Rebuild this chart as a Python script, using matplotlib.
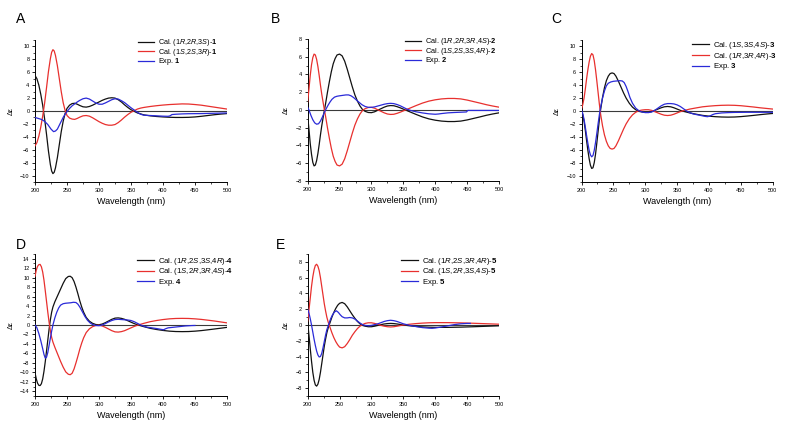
import matplotlib
matplotlib.use('Agg')
import matplotlib.pyplot as plt
from matplotlib.ticker import MultipleLocator

plt.rcParams['font.family'] = ['Liberation Sans', 'DejaVu Sans']
plt.rcParams['mathtext.fontset'] = 'custom'
plt.rcParams['mathtext.rm'] = 'Liberation Sans'
plt.rcParams['mathtext.it'] = 'Liberation Sans:italic'
plt.rcParams['mathtext.bf'] = 'Liberation Sans:bold'

# ---- panel A ----
a_wl_cal = [200, 203, 206, 209, 212, 215, 218, 221, 224, 226, 228, 230, 232, 235, 238, 241, 244, 247, 250,
            254, 258, 262, 266, 270, 275, 280, 285, 290, 295, 300, 305, 310, 315, 320, 325, 330, 335, 340,
            345, 350, 355, 360, 365, 370, 380, 390, 400, 410, 420, 430, 440, 450, 460, 470, 480, 490, 500]
a_black = [5.5, 5.0, 4.0, 2.6, 0.9, -1.2, -3.6, -6.2, -8.3, -9.3, -9.7, -9.5, -8.8, -7.2, -5.2, -3.2, -1.6,
           -0.4, 0.4, 0.9, 1.15, 1.2, 1.05, 0.85, 0.65, 0.6, 0.7, 0.9, 1.15, 1.4, 1.65, 1.85, 2.0, 2.05, 2.0,
           1.75, 1.4, 0.95, 0.55, 0.2, -0.05, -0.3, -0.45, -0.6, -0.75, -0.85, -0.92, -0.97, -1.0, -1.0,
           -0.98, -0.92, -0.82, -0.7, -0.58, -0.48, -0.4]
a_red = [-5.4, -4.9, -3.9, -2.5, -0.8, 1.2, 3.6, 6.1, 8.1, 9.1, 9.5, 9.3, 8.6, 7.0, 5.0, 3.0, 1.3, 0.1,
         -0.7, -1.1, -1.25, -1.3, -1.15, -0.95, -0.75, -0.7, -0.8, -1.05, -1.35, -1.65, -1.9, -2.1, -2.2,
         -2.2, -2.1, -1.8, -1.4, -0.95, -0.55, -0.2, 0.05, 0.3, 0.45, 0.55, 0.7, 0.82, 0.92, 1.0, 1.05,
         1.1, 1.08, 1.0, 0.9, 0.75, 0.6, 0.45, 0.3]
a_wl_exp = [200, 205, 210, 215, 220, 225, 229, 232, 235, 238, 241, 244, 247, 250, 254, 258, 262, 266, 270,
            275, 280, 285, 290, 295, 300, 305, 310, 315, 320, 325, 330, 335, 340, 345, 350, 355, 360, 365,
            370, 380, 390, 400, 408, 411, 414, 420, 430, 440, 460, 480, 500]
a_blue = [-1.0, -1.15, -1.3, -1.6, -2.1, -2.8, -3.2, -3.1, -2.8, -2.2, -1.6, -1.0, -0.5, -0.1, 0.4, 0.8, 1.1,
          1.4, 1.65, 1.9, 2.0, 1.85, 1.55, 1.25, 1.05, 1.05, 1.25, 1.5, 1.75, 1.9, 1.85, 1.6, 1.3, 0.9, 0.5,
          0.15, -0.2, -0.5, -0.65, -0.7, -0.75, -0.8, -0.82, -0.75, -0.55, -0.5, -0.45, -0.42, -0.4, -0.35,
          -0.3]

# ---- panel B ----
b_wl_cal = [200, 202, 204, 206, 208, 210, 212, 214, 216, 218, 220, 222, 225, 228, 231, 234, 237, 240, 243,
            246, 250, 254, 258, 262, 266, 270, 274, 278, 282, 286, 290, 295, 300, 305, 310, 315, 320, 325,
            330, 335, 340, 345, 350, 355, 360, 370, 380, 390, 400, 410, 420, 430, 440, 450, 460, 470, 480,
            490, 500]
b_black = [-0.7, -2.2, -3.8, -5.0, -5.9, -6.3, -6.2, -5.7, -4.9, -3.9, -2.8, -1.8, -0.5, 0.7, 2.0, 3.2, 4.3,
           5.2, 5.8, 6.2, 6.3, 6.1, 5.5, 4.6, 3.6, 2.6, 1.7, 1.0, 0.45, 0.05, -0.15, -0.28, -0.3, -0.2,
           -0.02, 0.15, 0.32, 0.45, 0.5, 0.48, 0.38, 0.25, 0.1, -0.05, -0.2, -0.5, -0.78, -1.0, -1.15,
           -1.25, -1.3, -1.3, -1.25, -1.12, -0.95, -0.78, -0.6, -0.45, -0.32]
b_red = [0.9, 2.4, 3.9, 5.1, 5.9, 6.3, 6.2, 5.7, 4.9, 3.9, 2.8, 1.8, 0.5, -0.7, -2.0, -3.2, -4.3, -5.2,
         -5.8, -6.2, -6.3, -6.1, -5.5, -4.6, -3.6, -2.6, -1.7, -1.0, -0.45, -0.05, 0.15, 0.28, 0.3, 0.2,
         0.02, -0.15, -0.32, -0.45, -0.5, -0.48, -0.38, -0.25, -0.1, 0.05, 0.2, 0.5, 0.78, 1.0, 1.15, 1.25,
         1.3, 1.3, 1.25, 1.12, 0.95, 0.78, 0.6, 0.45, 0.32]
b_wl_exp = [200, 202, 205, 208, 211, 214, 217, 220, 223, 226, 229, 232, 235, 238, 242, 246, 250, 255, 260,
            264, 268, 272, 276, 280, 285, 290, 295, 300, 305, 310, 315, 320, 325, 330, 335, 340, 345, 350,
            355, 360, 365, 370, 380, 390, 400, 405, 410, 420, 430, 440, 449, 451, 470, 500]
b_blue = [0.3, 0.0, -0.6, -1.1, -1.45, -1.6, -1.55, -1.25, -0.8, -0.3, 0.15, 0.55, 0.9, 1.2, 1.45, 1.55, 1.6,
          1.65, 1.7, 1.7, 1.6, 1.4, 1.15, 0.9, 0.6, 0.4, 0.3, 0.3, 0.35, 0.45, 0.55, 0.65, 0.72, 0.75, 0.72,
          0.62, 0.48, 0.3, 0.12, -0.02, -0.12, -0.2, -0.33, -0.43, -0.48, -0.45, -0.4, -0.32, -0.28, -0.25,
          -0.22, -0.05, -0.05, -0.05]

# ---- panel C ----
c_wl_cal = [200, 202, 204, 206, 208, 210, 212, 214, 216, 218, 220, 222, 224, 226, 228, 230, 233, 236, 239,
            242, 245, 248, 251, 254, 258, 262, 266, 270, 275, 280, 285, 290, 295, 300, 305, 310, 315, 320,
            325, 330, 335, 340, 345, 350, 355, 360, 370, 380, 390, 400, 410, 420, 430, 440, 450, 460, 470,
            480, 490, 500]
c_black = [0.0, -0.6, -1.6, -3.0, -4.6, -6.1, -7.4, -8.4, -8.9, -8.8, -8.0, -6.7, -5.0, -3.2, -1.4, 0.2, 2.1,
           3.6, 4.7, 5.4, 5.8, 5.9, 5.8, 5.4, 4.6, 3.7, 2.8, 2.0, 1.2, 0.6, 0.2, -0.05, -0.15, -0.2, -0.2,
           -0.1, 0.1, 0.3, 0.5, 0.65, 0.7, 0.65, 0.5, 0.3, 0.1, -0.05, -0.3, -0.5, -0.68, -0.8, -0.88, -0.93,
           -0.95, -0.93, -0.87, -0.78, -0.68, -0.57, -0.47, -0.38]
c_red = [0.3, 1.0, 2.0, 3.4, 5.0, 6.4, 7.6, 8.5, 8.9, 8.7, 7.8, 6.4, 4.7, 2.9, 1.1, -0.5, -2.3, -3.7, -4.7,
         -5.4, -5.8, -5.9, -5.8, -5.4, -4.6, -3.7, -2.8, -2.0, -1.2, -0.6, -0.2, 0.05, 0.15, 0.2, 0.2, 0.1,
         -0.1, -0.3, -0.5, -0.65, -0.7, -0.65, -0.5, -0.3, -0.1, 0.05, 0.3, 0.48, 0.65, 0.75, 0.83, 0.88,
         0.9, 0.88, 0.82, 0.72, 0.62, 0.5, 0.4, 0.3]
c_wl_exp = [200, 202, 204, 206, 208, 210, 212, 214, 216, 218, 220, 222, 224, 226, 228, 230, 233, 236, 239,
            242, 246, 250, 255, 260, 264, 267, 270, 273, 276, 280, 285, 290, 295, 300, 305, 310, 315, 320,
            325, 330, 335, 340, 345, 350, 355, 360, 365, 370, 375, 380, 385, 390, 395, 398, 402, 406, 410,
            420, 430, 440, 460, 480, 500]
c_blue = [0.2, -0.4, -1.3, -2.5, -3.8, -5.0, -6.1, -6.8, -7.1, -6.9, -6.1, -4.9, -3.5, -2.0, -0.6, 0.6, 2.0,
          3.1, 3.9, 4.3, 4.5, 4.6, 4.65, 4.7, 4.65, 4.4, 3.8, 3.0, 2.1, 1.2, 0.45, 0.05, -0.15, -0.25, -0.25,
          -0.15, 0.1, 0.45, 0.8, 1.05, 1.15, 1.15, 1.1, 0.95, 0.7, 0.35, 0.0, -0.25, -0.45, -0.55, -0.65,
          -0.75, -0.85, -0.88, -0.75, -0.55, -0.42, -0.3, -0.25, -0.22, -0.2, -0.2, -0.2]

# ---- panel D ----
d_wl_cal = [200, 202, 204, 206, 208, 210, 212, 214, 216, 218, 220, 222, 224, 226, 228, 231, 234, 237, 240,
            244, 248, 252, 255, 258, 261, 264, 267, 270, 273, 276, 280, 285, 290, 295, 300, 305, 310, 315,
            320, 325, 330, 335, 340, 345, 350, 355, 360, 365, 370, 380, 390, 400, 410, 420, 430, 440, 450,
            460, 470, 480, 490, 500]
d_black = [-10.1, -11.4, -12.3, -12.75, -12.8, -12.4, -11.4, -9.8, -7.8, -5.5, -3.2, -0.9, 1.1, 2.7, 3.8,
           4.9, 5.8, 6.7, 7.6, 8.8, 9.8, 10.25, 10.3, 10.0, 9.2, 8.0, 6.6, 5.1, 3.8, 2.7, 1.6, 0.8, 0.35,
           0.1, 0.05, 0.2, 0.5, 0.85, 1.2, 1.45, 1.5, 1.4, 1.2, 0.9, 0.6, 0.3, 0.05, -0.15, -0.35, -0.7,
           -0.95, -1.15, -1.3, -1.38, -1.4, -1.38, -1.3, -1.18, -1.02, -0.85, -0.68, -0.5]
d_red = [10.3, 11.6, 12.4, 12.75, 12.8, 12.3, 11.2, 9.5, 7.3, 5.0, 2.7, 0.6, -1.2, -2.6, -3.6, -4.7, -5.7,
         -6.7, -7.7, -8.9, -9.9, -10.4, -10.5, -10.2, -9.3, -8.0, -6.6, -5.1, -3.8, -2.7, -1.6, -0.8, -0.35,
         -0.1, -0.05, -0.2, -0.5, -0.85, -1.2, -1.45, -1.5, -1.4, -1.2, -0.9, -0.6, -0.3, -0.05, 0.15, 0.35,
         0.7, 0.95, 1.15, 1.3, 1.38, 1.4, 1.38, 1.3, 1.18, 1.02, 0.85, 0.65, 0.45]
d_wl_exp = [200, 203, 206, 209, 212, 214, 216, 218, 220, 222, 224, 226, 228, 231, 234, 237, 240, 244, 248,
            252, 256, 260, 264, 267, 270, 274, 278, 282, 286, 290, 295, 300, 305, 310, 315, 320, 325, 330,
            335, 340, 345, 350, 355, 360, 365, 370, 375, 380, 390, 398, 401, 404, 408, 415, 425, 435, 445, 450]
d_blue = [0.0, -0.6, -1.8, -3.3, -5.0, -6.2, -7.0, -6.8, -5.8, -4.3, -2.8, -1.3, 0.0, 1.5, 2.7, 3.6, 4.2, 4.5,
          4.6, 4.65, 4.7, 4.8, 4.75, 4.4, 3.8, 2.8, 1.8, 1.0, 0.45, 0.1, -0.1, -0.15, 0.0, 0.3, 0.65, 0.95,
          1.15, 1.2, 1.15, 1.1, 1.05, 0.95, 0.7, 0.35, 0.0, -0.25, -0.45, -0.55, -0.75, -0.95, -1.0, -0.8,
          -0.6, -0.5, -0.35, -0.2, -0.12, -0.1]

# ---- panel E ----
e_wl_cal = [200, 202, 204, 206, 208, 210, 212, 214, 216, 218, 220, 222, 224, 226, 228, 230, 232, 235, 238,
            241, 244, 247, 250, 254, 258, 262, 266, 270, 274, 278, 282, 286, 290, 295, 300, 305, 310, 315,
            320, 325, 330, 335, 340, 345, 350, 360, 370, 380, 390, 400, 420, 440, 460, 480, 500]
e_black = [0.3, -1.3, -3.0, -4.6, -6.0, -7.0, -7.6, -7.75, -7.5, -6.9, -6.0, -4.9, -3.8, -2.7, -1.8, -1.0,
           -0.4, 0.3, 1.0, 1.6, 2.1, 2.5, 2.75, 2.86, 2.7, 2.3, 1.8, 1.3, 0.85, 0.45, 0.15, -0.05, -0.15,
           -0.22, -0.22, -0.15, -0.05, 0.05, 0.13, 0.18, 0.2, 0.18, 0.13, 0.07, 0.0, -0.1, -0.18, -0.24,
           -0.28, -0.3, -0.3, -0.27, -0.22, -0.16, -0.1]
e_red = [0.5, 1.9, 3.4, 4.9, 6.1, 7.0, 7.55, 7.7, 7.45, 6.9, 6.0, 4.9, 3.8, 2.7, 1.8, 1.0, 0.4, -0.3, -1.0,
         -1.6, -2.1, -2.5, -2.8, -2.9, -2.75, -2.35, -1.85, -1.3, -0.85, -0.45, -0.15, 0.05, 0.2, 0.28,
         0.28, 0.2, 0.08, -0.05, -0.15, -0.22, -0.25, -0.22, -0.15, -0.07, 0.0, 0.1, 0.18, 0.24, 0.28, 0.3,
         0.3, 0.27, 0.22, 0.16, 0.1]
e_wl_exp = [200, 202, 204, 206, 208, 210, 212, 214, 216, 218, 220, 222, 224, 226, 228, 230, 233, 236, 239,
            242, 245, 248, 251, 254, 258, 262, 266, 270, 274, 278, 282, 286, 290, 295, 300, 305, 310, 315,
            320, 325, 330, 335, 340, 345, 350, 355, 360, 370, 380, 390, 395, 400, 410, 420, 430, 440, 450, 455]
e_blue = [2.0, 1.5, 0.8, 0.0, -0.9, -1.8, -2.6, -3.3, -3.8, -4.05, -4.0, -3.6, -2.9, -2.1, -1.3, -0.6, 0.1,
          0.8, 1.3, 1.65, 1.8, 1.6, 1.3, 1.05, 0.9, 0.9, 0.95, 0.9, 0.75, 0.5, 0.25, 0.05, -0.05, -0.1,
          -0.05, 0.05, 0.15, 0.3, 0.45, 0.55, 0.6, 0.55, 0.45, 0.3, 0.15, 0.05, -0.05, -0.2, -0.33, -0.4,
          -0.42, -0.38, -0.25, -0.1, 0.05, 0.15, 0.2, 0.2]

BLACK = '#111111'
RED = '#e8302e'
BLUE = '#2a2ad8'

W, H = 798, 432
fig = plt.figure(figsize=(W / 100, H / 100), dpi=100)


def box(x0, x1, ytop, ybot):
    return [x0 / W, 1 - ybot / H, (x1 - x0) / W, (ybot - ytop) / H]


def panel(rect, letter, letter_xy, wl_cal, blk, red, wl_exp, blu, labels, ylim, leg):
    ax = fig.add_axes(rect)
    ax.axhline(0, color='#3a3a3a', lw=0.8, zorder=1)
    ax.plot(wl_cal, blk, color=BLACK, lw=0.9, label=labels[0], zorder=3)
    ax.plot(wl_cal, red, color=RED, lw=0.9, label=labels[1], zorder=3)
    ax.plot(wl_exp, blu, color=BLUE, lw=0.9, label=labels[2], zorder=4)
    ax.set_xlim(200, 500)
    ax.set_ylim(*ylim)
    ax.spines['top'].set_visible(False)
    ax.spines['right'].set_visible(False)
    for s in ('left', 'bottom'):
        ax.spines[s].set_linewidth(0.7)
    ax.xaxis.set_major_locator(MultipleLocator(50))
    ax.xaxis.set_minor_locator(MultipleLocator(25))
    ax.yaxis.set_major_locator(MultipleLocator(2))
    ax.yaxis.set_minor_locator(MultipleLocator(1))
    ax.tick_params(which='major', direction='out', length=2.5, width=0.6, labelsize=4, pad=1.5)
    ax.tick_params(which='minor', direction='out', length=1.3, width=0.5)
    ax.set_xlabel('Wavelength (nm)', fontsize=6.5, labelpad=3)
    ax.set_ylabel('Δε', fontsize=5, labelpad=4)
    lx, ly, fs, ls = leg
    ax.legend(loc='upper left', bbox_to_anchor=(lx, ly), frameon=False, fontsize=fs,
              handlelength=2.2, handletextpad=0.55, labelspacing=ls, borderpad=0,
              borderaxespad=0)
    fig.text(letter_xy[0] / W, 1 - letter_xy[1] / H, letter, fontsize=10, ha='left', va='top')
    return ax


panel(box(35, 227, 40, 182), 'A', (16, 12), a_wl_cal, a_black, a_red, a_wl_exp, a_blue,
      [r'Cal. (1$\it{R}$,2$\it{R}$,3$\it{S}$)-$\bf{1}$', r'Cal. (1$\it{S}$,2$\it{S}$,3$\it{R}$)-$\bf{1}$',
       r'Exp. $\bf{1}$'], (-11, 11), (0.536, 1.02, 5.2, -0.2))
panel(box(307.7, 499, 39, 181), 'B', (271, 12), b_wl_cal, b_black, b_red, b_wl_exp, b_blue,
      [r'Cal. (1$\it{R}$,2$\it{R}$,3$\it{R}$,4$\it{S}$)-$\bf{2}$',
       r'Cal. (1$\it{S}$,2$\it{S}$,3$\it{S}$,4$\it{R}$)-$\bf{2}$', r'Exp. $\bf{2}$'], (-8, 8),
      (0.509, 1.02, 5.3, -0.2))
panel(box(581.5, 772.7, 40, 182), 'C', (551, 12), c_wl_cal, c_black, c_red, c_wl_exp, c_blue,
      [r'Cal. (1$\it{S}$,3$\it{S}$,4$\it{S}$)-$\bf{3}$', r'Cal. (1$\it{R}$,3$\it{R}$,4$\it{R}$)-$\bf{3}$',
       r'Exp. $\bf{3}$'], (-11, 11), (0.578, 1.0, 5.6, -0.05))
panel(box(35, 227, 254, 396), 'D', (16, 238), d_wl_cal, d_black, d_red, d_wl_exp, d_blue,
      [r'Cal. (1$\it{R}$,2$\it{S}$,3$\it{S}$,4$\it{R}$)-$\bf{4}$',
       r'Cal. (1$\it{S}$,2$\it{R}$,3$\it{R}$,4$\it{S}$)-$\bf{4}$', r'Exp. $\bf{4}$'], (-15, 15),
      (0.531, 0.985, 5.6, -0.1))
panel(box(307.7, 499, 254, 396), 'E', (276, 238), e_wl_cal, e_black, e_red, e_wl_exp, e_blue,
      [r'Cal. (1$\it{R}$,2$\it{S}$,3$\it{R}$,4$\it{R}$)-$\bf{5}$',
       r'Cal. (1$\it{S}$,2$\it{R}$,3$\it{S}$,4$\it{S}$)-$\bf{5}$', r'Exp. $\bf{5}$'], (-9, 9),
      (0.488, 0.985, 5.6, -0.1))

fig.savefig('out.png', dpi=100)
